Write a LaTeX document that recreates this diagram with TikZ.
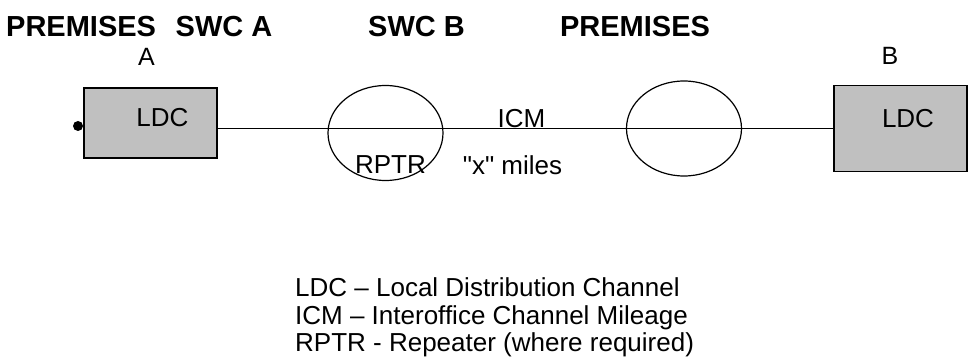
\documentclass[tikz,border=0pt]{standalone}
\usepackage{fontspec}
\setmainfont{Liberation Sans}[Ligatures=TeXOff]
\usepackage{tikz}
\usetikzlibrary{positioning, shapes.geometric}
\definecolor{ldcgray}{HTML}{C0C0C0}

\begin{document}
\begin{tikzpicture}[x=1pt, y=-1pt,
    caja/.style={draw, fill=ldcgray, line width=1.4pt, inner sep=0pt, minimum width=133pt},
    rptr/.style={draw, ellipse, line width=1.2pt, inner sep=0pt, minimum width=115pt, minimum height=95pt},
    txt/.style={font=\fontsize{26}{30}\selectfont, inner sep=0pt, anchor=base},
    txtb/.style={font=\fontsize{29}{33}\selectfont\bfseries, inner sep=0pt, anchor=base},
    txtab/.style={font=\fontsize{25}{29}\selectfont, inner sep=0pt, anchor=base}]
    \useasboundingbox (0,0) rectangle (969,363);

    % Encabezados
    \node[txtb, anchor=base west] (premA) at (6,37) {PREMISES};
    \node[txtb, anchor=base west] (swcA) at (175.5,37) {SWC A};
    \node[txtb] (swcB) at (416.5,37) {SWC B};
    \node[txtb] (premB) at (635,37) {PREMISES};
    \node[txtab] (puntoA) at (146.5,66) {A};
    \node[txtab] (puntoB) at (890,65) {B};

    % Cajas LDC
    \node[caja, minimum height=70pt] (boxA) at (150.5,123) {};
    \node[caja, minimum height=86pt] (boxB) at (900.5,128.5) {};
    \node[txt] (ldcA) at (162.5,127) {LDC};
    \node[txt] (ldcB) at (908,128) {LDC};
    \node[circle, fill, inner sep=0pt, minimum size=10pt] (dot) at (78,126) {};

    % Repetidores
    \node[rptr] (rptrA) at (385.5,133) {};
    \node[rptr] (rptrB) at (684,128.5) {};

    % Canal entre oficinas
    \draw[line width=1.2pt] (boxA.east |- boxB.west) -- (boxB.west);
    \node[txt] (icm) at (521.5,128) {ICM};
    \node[txt] (lblrptr) at (390.5,174) {RPTR};
    \node[txt] (millas) at (512.5,175) {"x" miles};

    % Leyenda
    \node[txt, anchor=base west] (leg1) at (295,297) {LDC – Local Distribution Channel};
    \node[txt, anchor=base west] (leg2) at (295,324) {ICM – Interoffice Channel Mileage};
    \node[txt, anchor=base west] (leg3) at (295,351) {RPTR - Repeater (where required)};
\end{tikzpicture}
\end{document}
